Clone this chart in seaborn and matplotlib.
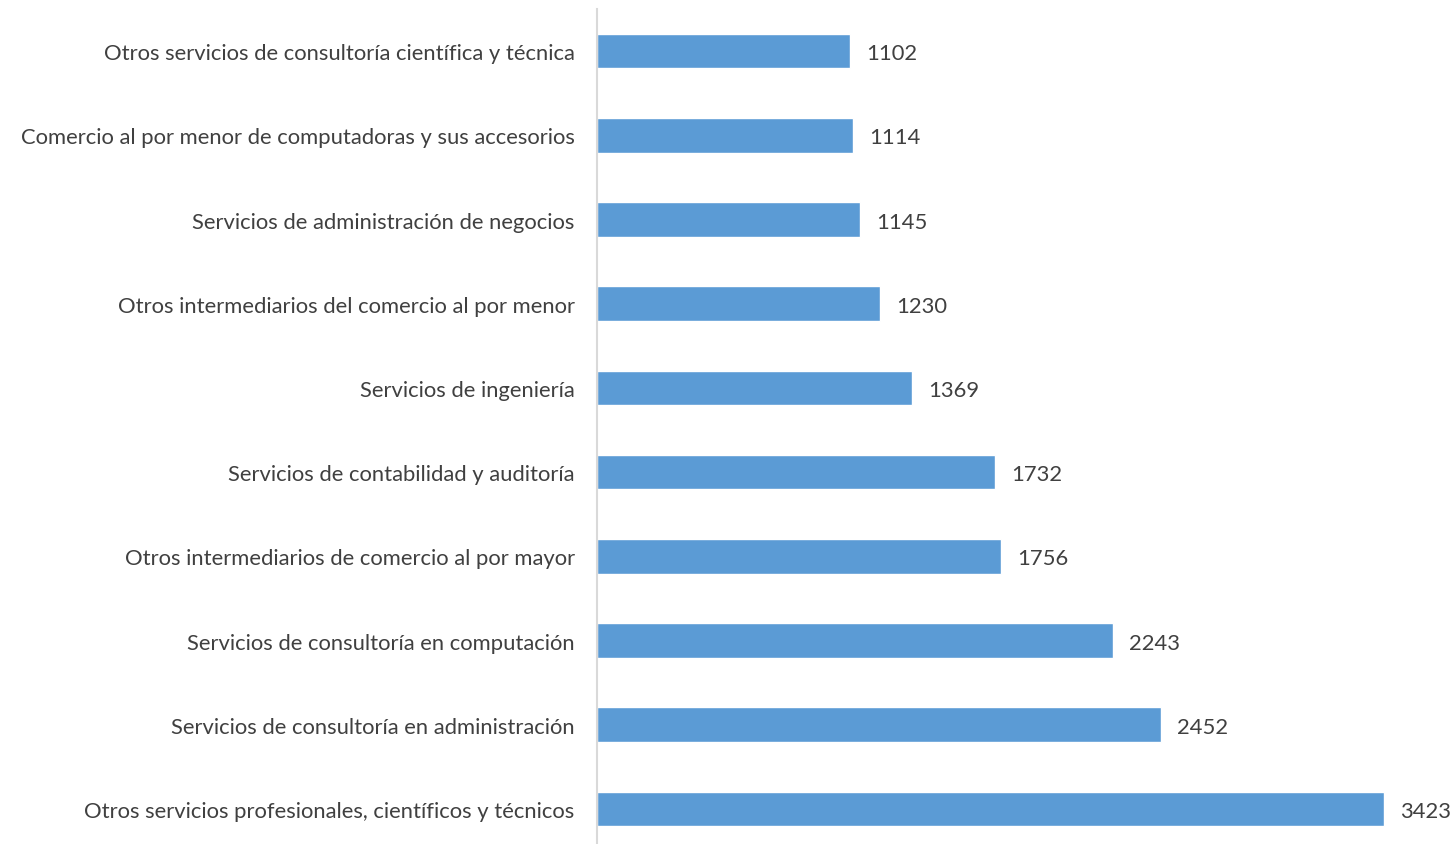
import matplotlib
matplotlib.use("Agg")
import matplotlib.pyplot as plt
import seaborn as sns
import pandas as pd

# categorias y valores (de arriba hacia abajo)
categorias = [
    "Otros servicios de consultoría científica y técnica",
    "Comercio al por menor de computadoras y sus accesorios",
    "Servicios de administración de negocios",
    "Otros intermediarios del comercio al por menor",
    "Servicios de ingeniería",
    "Servicios de contabilidad y auditoría",
    "Otros intermediarios de comercio al por mayor",
    "Servicios de consultoría en computación",
    "Servicios de consultoría en administración",
    "Otros servicios profesionales, científicos y técnicos",
]
valores = [1102, 1114, 1145, 1230, 1369, 1732, 1756, 2243, 2452, 3423]

datos = pd.DataFrame({"categoria": categorias, "valor": valores})

sns.set_style("white")
plt.rcParams["font.family"] = ["Lato", "DejaVu Sans"]

fig = plt.figure(figsize=(14.5, 8.45), dpi=100)
ax = fig.add_axes([0.4117, -0.0083, 0.5883, 0.9964])

sns.barplot(data=datos, x="valor", y="categoria", color="#5B9BD5",
            width=0.41, saturation=1, ax=ax)

ax.set_xlim(0, 3710)
ax.set_xlabel("")
ax.set_ylabel("")
ax.set_xticks([])
for s in ["top", "right", "bottom"]:
    ax.spines[s].set_visible(False)
ax.spines["left"].set_color("#D9D9D9")
ax.spines["left"].set_linewidth(1.5)
ax.tick_params(axis="y", length=0, pad=16, labelsize=15.8, labelcolor="#404040")

# etiquetas de valores
for i, v in enumerate(valores):
    ax.text(v + 70, i, str(v), va="center_baseline", ha="left", fontsize=15.8,
            color="#404040", clip_on=False)

fig.savefig("out.png", dpi=100)
